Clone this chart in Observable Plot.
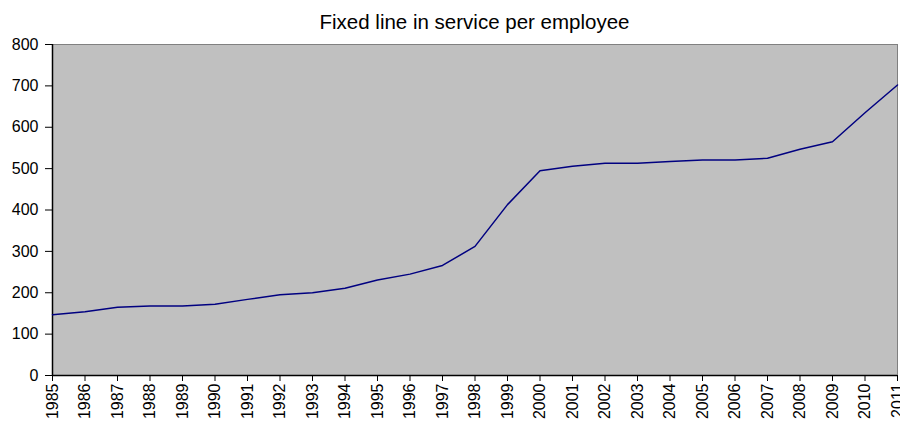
<!DOCTYPE html>
<html>
<head>
<meta charset="utf-8">
<script src="https://cdn.jsdelivr.net/npm/d3@7"></script>
<script src="https://cdn.jsdelivr.net/npm/@observablehq/plot@0.6"></script>
<style>
  html, body { margin: 0; padding: 0; background: #fff; }
  body { font-family: "Liberation Sans", Arial, sans-serif; width: 900px; }
  #title { height: 35px; box-sizing: border-box; padding-left: 52px; width: 900px; }
  #title div { width: 845px; text-align: center; font-size: 20.5px; padding-top: 11px; line-height: 22px; color: #000; }
</style>
</head>
<body>
<div id="title"><div>Fixed line in service per employee</div></div>
<div id="chart"></div>
<script>
const years = [1985,1986,1987,1988,1989,1990,1991,1992,1993,1994,1995,1996,1997,1998,1999,2000,2001,2002,2003,2004,2005,2006,2007,2008,2009,2010,2011];
const values = [147,154,165,168,168,172,184,195,200,211,231,245,266,312,413,495,506,513,513,517,521,521,525,547,565,635,702];
const yTicks = [0,100,200,300,400,500,600,700,800];

const data = years.map((y, i) => ({year: y, value: values[i]}));

const chart = Plot.plot({
  width: 900,
  height: 386,
  marginTop: 9,
  marginBottom: 46,
  marginLeft: 52,
  marginRight: 3,
  style: {fontFamily: "'Liberation Sans', Arial, sans-serif", fontSize: "16px", color: "#000", background: "#fff"},
  x: {domain: [1985, 2011], ticks: years, tickFormat: d => String(d)},
  y: {domain: [0, 800], ticks: yTicks},
  marks: [
    Plot.frame({fill: "#c0c0c0", stroke: "#808080"}),
    Plot.axisY({ticks: yTicks, tickSize: 7, tickPadding: 7, fontSize: 16, label: null}),
    Plot.axisX({ticks: years, tickFormat: d => String(d), tickSize: 6, tickPadding: 2, tickRotate: -90, fontSize: 16, label: null}),
    Plot.ruleX([1985], {stroke: "#000", strokeWidth: 1.5}),
    Plot.ruleY([0], {stroke: "#000", strokeWidth: 1.5}),
    Plot.line(data, {x: "year", y: "value", stroke: "#000080", strokeWidth: 1.5})
  ]
});
document.getElementById("chart").appendChild(chart);
</script>
</body>
</html>
